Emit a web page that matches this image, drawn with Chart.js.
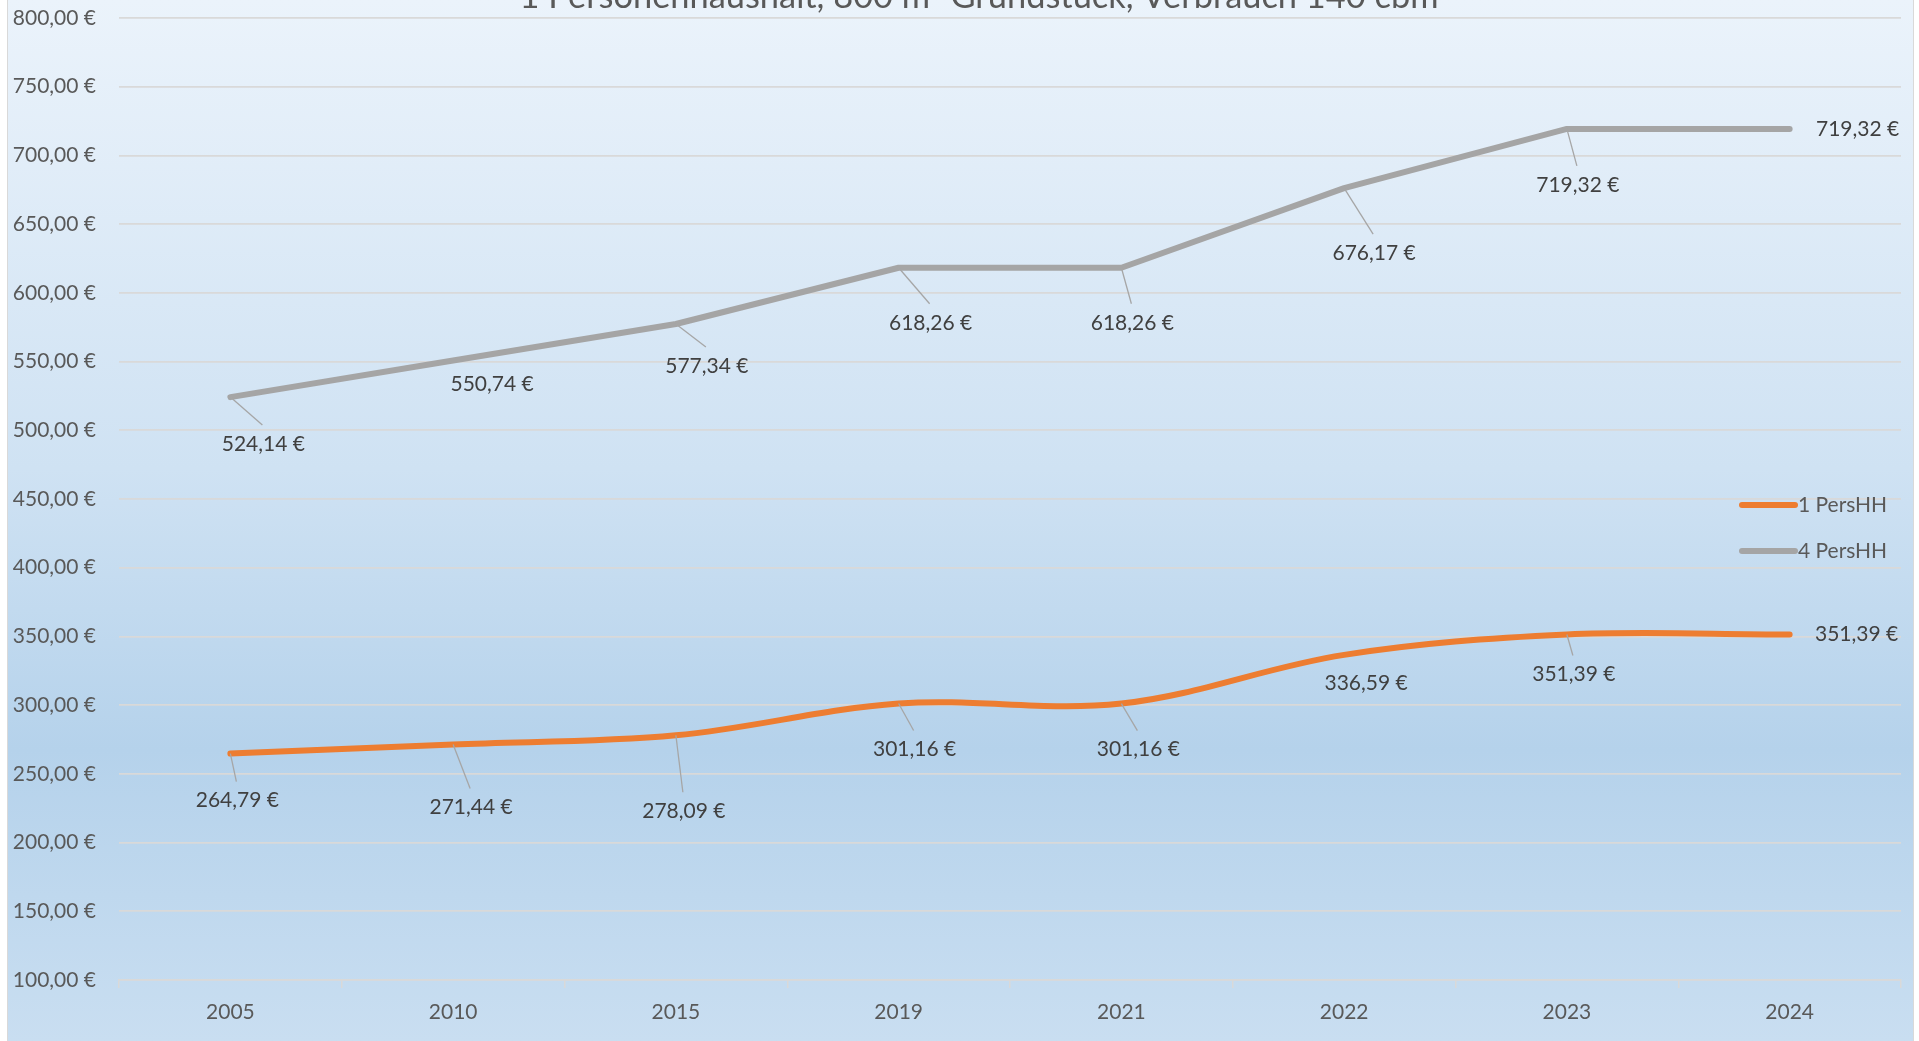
<!DOCTYPE html>
<html>
<head>
<meta charset="utf-8">
<script src="https://cdn.jsdelivr.net/npm/chart.js@4.4.1/dist/chart.umd.min.js"></script>
<style>
  html,body{margin:0;padding:0;background:#fff;overflow:hidden;}
  canvas{display:block;}
</style>
</head>
<body>
<canvas id="c" width="1919" height="1041"></canvas>
<script>
// ---- data ----
const years = ['2005', '2010', '2015', '2019', '2021', '2022', '2023', '2024'];
const pers1 = [264.79, 271.44, 278.09, 301.16, 301.16, 336.59, 351.39, 351.39];
const pers4 = [524.14, 550.74, 577.34, 618.26, 618.26, 676.17, 719.32, 719.32];
const seriesNames = ['1 PersHH', '4 PersHH'];
const yMin = 100, yMax = 800, yStep = 50;
const titleText = '1 Personenhaushalt, 800 m² Grundstück, Verbrauch 140 cbm';

// ---- label placement (pixel offsets from the data point) ----
const labelOffsets = [
  // 1 PersHH
  [[7,47],[18,63],[8,76],[16,46],[17,46],[22,28],[7,40],[67,0]],
  // 4 PersHH
  [[33,47],[39,24],[31,42],[32,55],[11,55],[30,65],[11,56],[68,0]]
];

const FONT = 'Lato, "Open Sans", sans-serif';
const fmt = v => v.toFixed(2).replace('.', ',') + ' €';

const bgPlugin = {
  id: 'bg',
  beforeDraw(chart) {
    const ctx = chart.ctx;
    ctx.save();
    ctx.fillStyle = '#ffffff';
    ctx.fillRect(0, 0, chart.width, chart.height);
    const g = ctx.createLinearGradient(0, 0, 0, chart.height);
    g.addColorStop(0, '#ebf3fb');
    g.addColorStop(0.45, '#cfe2f3');
    g.addColorStop(0.72, '#b5d2eb');
    g.addColorStop(1, '#c9def1');
    ctx.fillStyle = g;
    ctx.fillRect(8, 0, 1905, chart.height);
    ctx.strokeStyle = '#d9d9d9';
    ctx.lineWidth = 1;
    ctx.strokeRect(7.5, -1, 1906, chart.height + 2);
    ctx.restore();
  }
};

const overlayPlugin = {
  id: 'overlay',
  afterDatasetsDraw(chart) {
    const ctx = chart.ctx;
    ctx.save();
    // leaders + labels
    chart.data.datasets.forEach((ds, di) => {
      const meta = chart.getDatasetMeta(di);
      meta.data.forEach((pt, j) => {
        const off = labelOffsets[di][j];
        const lx = pt.x + off[0], ly = pt.y + off[1];
        if (off[1] > 35) {
          ctx.beginPath();
          ctx.strokeStyle = '#a6a6a6';
          ctx.lineWidth = 1.3;
          ctx.moveTo(pt.x, pt.y);
          ctx.lineTo(lx - 1, ly - 19);
          ctx.stroke();
        }
        ctx.fillStyle = '#404040';
        ctx.font = '21px ' + FONT;
        ctx.textAlign = 'center';
        ctx.textBaseline = 'middle';
        ctx.fillText(fmt(ds.data[j]), lx, ly);
      });
    });
    // legend
    const legY = [505, 551];
    chart.data.datasets.forEach((ds, di) => {
      ctx.beginPath();
      ctx.strokeStyle = ds.borderColor;
      ctx.lineWidth = 6;
      ctx.lineCap = 'round';
      ctx.moveTo(1742, legY[di]);
      ctx.lineTo(1795, legY[di]);
      ctx.stroke();
      ctx.fillStyle = '#595959';
      ctx.font = '21px ' + FONT;
      ctx.textAlign = 'left';
      ctx.textBaseline = 'middle';
      ctx.fillText(ds.label, 1798, legY[di]);
    });
    // title (cut at the top edge)
    ctx.font = '30px ' + FONT;
    const w = ctx.measureText(titleText).width;
    const fs = 30 * 918 / w;
    ctx.font = fs.toFixed(1) + 'px ' + FONT;
    ctx.fillStyle = '#595959';
    ctx.textAlign = 'center';
    ctx.textBaseline = 'alphabetic';
    ctx.fillText(titleText, 979, 8);
    ctx.restore();
  }
};

new Chart(document.getElementById('c'), {
  type: 'line',
  data: {
    labels: years,
    datasets: [
      {
        label: seriesNames[0],
        data: pers1,
        borderColor: '#ED7D31',
        backgroundColor: '#ED7D31',
        borderWidth: 6,
        tension: 0.35,
        pointRadius: 0,
        borderCapStyle: 'round',
        borderJoinStyle: 'round',
        fill: false
      },
      {
        label: seriesNames[1],
        data: pers4,
        borderColor: '#A5A5A5',
        backgroundColor: '#A5A5A5',
        borderWidth: 6,
        tension: 0,
        pointRadius: 0,
        borderCapStyle: 'round',
        borderJoinStyle: 'round',
        fill: false
      }
    ]
  },
  options: {
    responsive: false,
    animation: false,
    layout: { padding: { top: 18, right: 18, left: 0, bottom: 0 } },
    plugins: {
      legend: { display: false },
      tooltip: { enabled: false },
      title: { display: false }
    },
    scales: {
      x: {
        type: 'category',
        offset: true,
        grid: {
          offset: true,
          drawOnChartArea: false,
          drawTicks: true,
          tickLength: 8,
          color: '#d9d9d9',
          lineWidth: 1.5
        },
        border: { display: true, color: '#d9d9d9', width: 1.5 },
        ticks: {
          color: '#595959',
          font: { family: FONT, size: 21 },
          padding: 12,
          maxRotation: 0
        },
        afterFit(scale) { scale.height = 61; scale.paddingLeft = 0; scale.paddingRight = 0; }
      },
      y: {
        type: 'linear',
        min: yMin,
        max: yMax,
        grid: { color: '#d9d9d9', lineWidth: 1.8, drawTicks: false },
        border: { display: false },
        ticks: {
          stepSize: yStep,
          color: '#595959',
          font: { family: FONT, size: 21 },
          padding: 23,
          callback: v => fmt(v)
        },
        afterFit(scale) { scale.width = 119; scale.paddingTop = 0; scale.paddingBottom = 0; }
      }
    }
  },
  plugins: [bgPlugin, overlayPlugin]
});
</script>
</body>
</html>
